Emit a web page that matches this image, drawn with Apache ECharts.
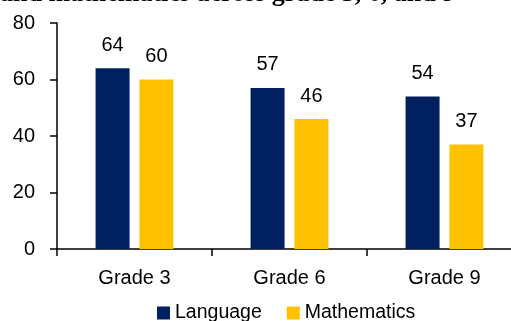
<!DOCTYPE html>
<html>
<head>
<meta charset="utf-8">
<script src="https://cdn.jsdelivr.net/npm/echarts@6/dist/echarts.min.js"></script>
<style>html,body{margin:0;padding:0;background:#fff}#c{width:511px;height:321px}</style>
</head>
<body>
<div id="c"></div>
<script>
const titleText = 'and mathematics across grade 3, 6, and 9';
const categories = ['Grade 3', 'Grade 6', 'Grade 9'];
const language = [64, 57, 54];
const mathematics = [60, 46, 37];
const yTicks = [0, 20, 40, 60, 80];

const FONT = "'Liberation Sans', Arial, sans-serif";
const FS = 20;
const chart = echarts.init(document.getElementById('c'), null, {renderer: 'canvas'});
chart.setOption({
  animation: false,
  backgroundColor: '#ffffff',
  graphic: [{
    type: 'text', left: 0, top: -19,
    style: {text: titleText, font: "bold 26px 'Liberation Serif', 'Times New Roman', serif", fill: '#000'}
  }],
  legend: {
    left: 152, top: 298, itemWidth: 13, itemHeight: 13, itemGap: 25, icon: 'rect',
    textStyle: {fontFamily: FONT, fontSize: 19.5, color: '#000'},
    data: ['Language', 'Mathematics']
  },
  grid: {left: 57, width: 465, top: 23, bottom: 72, containLabel: false, outerBoundsMode: 'none'},
  xAxis: {
    type: 'category', data: categories,
    axisLine: {lineStyle: {color: '#000', width: 1.5}},
    axisTick: {show: true, length: 7, lineStyle: {color: '#000', width: 1.5}},
    axisLabel: {fontFamily: FONT, fontSize: FS, color: '#000', margin: 19}
  },
  yAxis: {
    type: 'value', min: yTicks[0], max: yTicks[yTicks.length-1], interval: 20,
    axisLine: {show: true, lineStyle: {color: '#000', width: 1.5}},
    axisTick: {show: true, length: 7, lineStyle: {color: '#000', width: 1.5}},
    splitLine: {show: false},
    axisLabel: {fontFamily: FONT, fontSize: FS, color: '#000', margin: 22}
  },
  series: [
    {name: 'Language', type: 'bar', data: language, barWidth: 34, barGap: '29%',
     itemStyle: {color: '#002060'},
     label: {show: true, position: 'top', distance: 13, fontFamily: FONT, fontSize: FS, color: '#000'}},
    {name: 'Mathematics', type: 'bar', data: mathematics, barWidth: 34,
     itemStyle: {color: '#FFC000'},
     label: {show: true, position: 'top', distance: 13, fontFamily: FONT, fontSize: FS, color: '#000'}}
  ]
});
</script>
</body>
</html>
